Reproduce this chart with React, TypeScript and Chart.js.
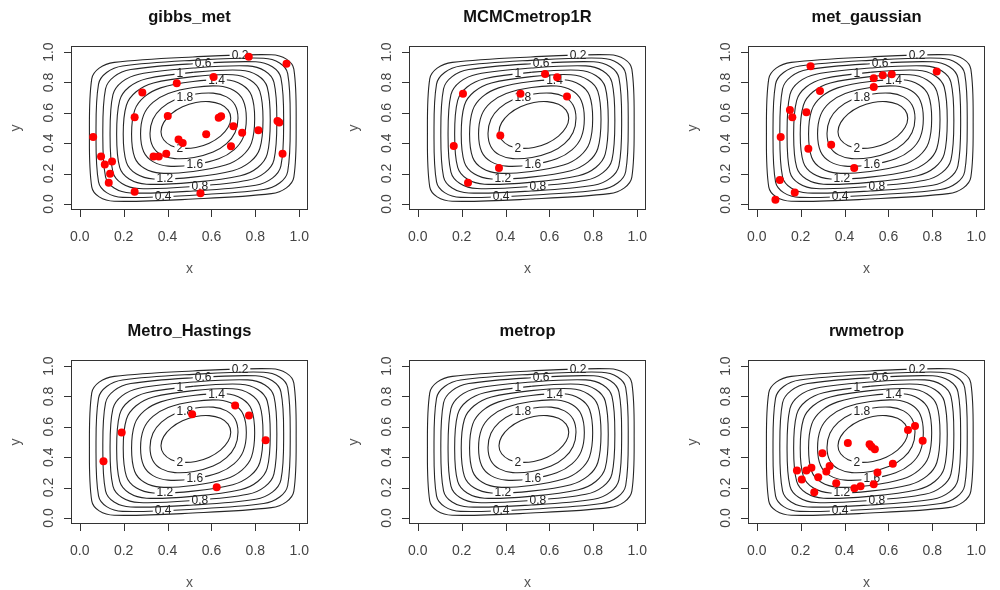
import React, { useEffect, useRef } from 'react';
import { Chart, registerables } from 'chart.js';

Chart.register(...registerables);

// ---------- data ----------
const panelTitles = ['gibbs_met', 'MCMCmetrop1R', 'met_gaussian', 'Metro_Hastings', 'metrop', 'rwmetrop'];
const tickValues = [0, 0.2, 0.4, 0.6, 0.8, 1.0];
const tickLabels = ['0.0', '0.2', '0.4', '0.6', '0.8', '1.0'];
const xAxisTitle = 'x';
const yAxisTitle = 'y';

const contourLevels = ['0.2', '0.4', '0.6', '0.8', '1', '1.2', '1.4', '1.6', '1.8', '2'];
const contourLabelAnchors = [
  [0.73, 0.978], [0.38, 0.049], [0.562, 0.928], [0.547, 0.117], [0.456, 0.858],
  [0.388, 0.167], [0.623, 0.815], [0.524, 0.259], [0.479, 0.705], [0.456, 0.369],
];

// contour rings (closed curves)
const ring02 = [[.044,.467],[.0545,.112],[.0884,.0462],[.157,.0174],[.515,.032],[.873,.0676],[.9416,.106],[.9755,.1766],[.986,.533],[.9755,.888],[.9416,.9538],[.873,.9826],[.515,.968],[.157,.9324],[.0884,.894],[.0545,.8234]];
const ring04 = [[.074,.4661],[.0855,.1447],[.1223,.0744],[.1952,.0433],[.5165,.0575],[.8378,.0947],[.9107,.1374],[.9475,.2137],[.959,.5369],[.9475,.8583],[.9107,.9286],[.8378,.9597],[.5165,.9455],[.1952,.9083],[.1223,.8656],[.0855,.7893]];
const ring06 = [[.105,.4669],[.1174,.1784],[.1564,.1048],[.2323,.072],[.517,.085],[.8017,.1232],[.8776,.1698],[.9166,.2504],[.929,.5411],[.9166,.8296],[.8776,.9032],[.8017,.936],[.517,.923],[.2323,.8848],[.1564,.8382],[.1174,.7576]];
const ring08 = [[.138,.4632],[.1511,.2101],[.1922,.1349],[.27,.1012],[.518,.115],[.766,.1558],[.8438,.2065],[.8849,.2909],[.898,.5468],[.8849,.7999],[.8438,.8751],[.766,.9088],[.518,.895],[.27,.8542],[.1922,.8035],[.1511,.7191]];
const ring10 = [[.168,.4595],[.1819,.2401],[.225,.1638],[.3041,.1296],[.518,.143],[.7319,.1852],[.811,.24],[.8541,.3275],[.868,.5505],[.8541,.7699],[.811,.8462],[.7319,.8804],[.518,.867],[.3041,.8248],[.225,.77],[.1819,.6825]];
const ring12 = [[.198,.4597],[.2125,.2738],[.2567,.1985],[.3355,.1644],[.5165,.1765],[.6975,.2188],[.7763,.2765],[.8205,.365],[.835,.5553],[.8205,.7412],[.7763,.8165],[.6975,.8506],[.5165,.8385],[.3355,.7962],[.2567,.7385],[.2125,.65]];
const ring14 = [[.236,.4595],[.2504,.3061],[.2939,.235],[.3686,.2026],[.5165,.214],[.6644,.2558],[.7391,.3152],[.7826,.4019],[.797,.5605],[.7826,.7139],[.7391,.785],[.6644,.8174],[.5165,.806],[.3686,.7642],[.2939,.7048],[.2504,.6181]];
const ring16 = [[.277,.4619],[.2912,.3433],[.3334,.2787],[.4029,.2488],[.518,.258],[.6331,.2972],[.7026,.3563],[.7448,.4385],[.759,.5631],[.7448,.6817],[.7026,.7463],[.6331,.7762],[.518,.767],[.4029,.7278],[.3334,.6687],[.2912,.5865]];
const ring18 = [[.32,.4639],[.3334,.377],[.3722,.323],[.4335,.2982],[.5205,.306],[.6075,.3416],[.6688,.3972],[.7076,.4706],[.721,.5641],[.7076,.651],[.6688,.705],[.6075,.7298],[.5205,.722],[.4335,.6864],[.3722,.6308],[.3334,.5574]];
const ring20 = [[.37,.4755],[.3821,.4223],[.4166,.3838],[.4682,.3663],[.529,.372],[.5898,.4003],[.6414,.4468],[.6759,.5045],[.688,.5645],[.6759,.6177],[.6414,.6562],[.5898,.6737],[.529,.668],[.4682,.6397],[.4166,.5932],[.3821,.5355]];
const contourRings = [ring02, ring04, ring06, ring08, ring10, ring12, ring14, ring16, ring18, ring20];

// sampled points per panel
const samplesGibbsMet = [[0.77,0.969],[0.942,0.923],[0.61,0.836],[0.442,0.794],[0.285,0.734],[0.25,0.57],[0.401,0.579],[0.633,0.568],[0.644,0.577],[0.901,0.546],[0.909,0.537],[0.061,0.441],[0.70,0.512],[0.814,0.486],[0.74,0.468],[0.576,0.459],[0.45,0.424],[0.469,0.401],[0.689,0.379],[0.924,0.331],[0.394,0.331],[0.336,0.313],[0.36,0.313],[0.097,0.313],[0.147,0.279],[0.114,0.259],[0.138,0.198],[0.132,0.14],[0.25,0.08],[0.55,0.071]];
const samplesMCMCmetrop1R = [[0.58,0.856],[0.635,0.834],[0.206,0.725],[0.468,0.725],[0.68,0.707],[0.376,0.45],[0.164,0.381],[0.37,0.237],[0.229,0.14]];
const samplesMetGaussian = [[0.245,0.907],[0.82,0.872],[0.533,0.827],[0.574,0.847],[0.615,0.854],[0.533,0.77],[0.288,0.743],[0.151,0.619],[0.226,0.603],[0.162,0.57],[0.109,0.441],[0.339,0.39],[0.235,0.364],[0.444,0.237],[0.105,0.158],[0.173,0.075],[0.085,0.027]];
const samplesMetroHastings = [[0.708,0.741],[0.512,0.683],[0.771,0.674],[0.191,0.563],[0.847,0.512],[0.108,0.373],[0.624,0.202]];
const samplesMetrop: number[][] = [];
const samplesRwmetrop = [[0.721,0.605],[0.689,0.579],[0.756,0.508],[0.415,0.494],[0.514,0.486],[0.523,0.468],[0.538,0.452],[0.299,0.426],[0.62,0.357],[0.332,0.342],[0.249,0.331],[0.226,0.313],[0.183,0.313],[0.317,0.306],[0.55,0.299],[0.28,0.268],[0.205,0.253],[0.362,0.228],[0.533,0.222],[0.473,0.208],[0.445,0.195],[0.262,0.169]];
const panelSamples = [samplesGibbsMet, samplesMCMCmetrop1R, samplesMetGaussian, samplesMetroHastings, samplesMetrop, samplesRwmetrop];

// ---------- layout / style ----------
const PANEL_W = 323;
const PANEL_H = 276;
const COL_LEFT = [0, 338, 677];
const ROW_TOP = [0, 314];
const FONT = '"Liberation Sans", Arial, Helvetica, sans-serif';
const CONTOUR_COLOR = '#262626';
const CONTOUR_FONT = `12px ${FONT}`;

function labelRect(ctx: CanvasRenderingContext2D, xs: any, ys: any, k: number) {
  const [lx, ly] = contourLabelAnchors[k];
  const px = xs.getPixelForValue(lx);
  const py = ys.getPixelForValue(ly);
  ctx.font = CONTOUR_FONT;
  const w = ctx.measureText(contourLevels[k]).width + 4;
  const h = 10;
  return { x: px - w / 2, y: py - h / 2, w, h, px, py };
}

const rStylePlugin = {
  id: 'rStyle',
  beforeDatasetsDraw(chart: any) {
    const { ctx, scales } = chart;
    ctx.save();
    ctx.font = CONTOUR_FONT;
    ctx.fillStyle = '#222';
    ctx.textAlign = 'center';
    ctx.textBaseline = 'middle';
    contourLevels.forEach((lev, k) => {
      const r = labelRect(ctx, scales.x, scales.y, k);
      ctx.fillText(lev, r.px, r.py + 0.5);
    });
    ctx.restore();
  },
  beforeDatasetDraw(chart: any, args: any) {
    if (args.index === 0) return;
    const k = args.index - 1;
    const { ctx, scales } = chart;
    ctx.save();
    const r = labelRect(ctx, scales.x, scales.y, k);
    ctx.beginPath();
    ctx.rect(0, 0, chart.width, chart.height);
    ctx.rect(r.x, r.y, r.w, r.h);
    ctx.clip('evenodd');
  },
  afterDatasetDraw(chart: any, args: any) {
    if (args.index === 0) return;
    chart.ctx.restore();
  },
  afterDraw(chart: any) {
    const { ctx, chartArea: a, scales } = chart;
    const xs = scales.x;
    const ys = scales.y;
    const title = chart.options.plugins.rStyle.title;
    ctx.save();
    ctx.strokeStyle = '#333';
    ctx.lineWidth = 1;
    ctx.strokeRect(a.left + 0.5, a.top + 0.5, a.right - a.left - 1, a.bottom - a.top - 1);
    ctx.beginPath();
    tickValues.forEach((v) => {
      const px = Math.round(xs.getPixelForValue(v)) + 0.5;
      ctx.moveTo(px, a.bottom - 1);
      ctx.lineTo(px, a.bottom + 7);
      const py = Math.round(ys.getPixelForValue(v)) + 0.5;
      ctx.moveTo(a.left + 1, py);
      ctx.lineTo(a.left - 7, py);
    });
    ctx.stroke();

    ctx.fillStyle = '#444';
    ctx.font = `14px ${FONT}`;
    ctx.textAlign = 'center';
    ctx.textBaseline = 'middle';
    tickValues.forEach((v, i) => {
      const px = xs.getPixelForValue(v);
      ctx.fillText(tickLabels[i], px, a.bottom + 27);
      const py = ys.getPixelForValue(v);
      ctx.save();
      ctx.translate(a.left - 22, py);
      ctx.rotate(-Math.PI / 2);
      ctx.fillText(tickLabels[i], 0, 0);
      ctx.restore();
    });

    ctx.font = `14px ${FONT}`;
    ctx.fillStyle = '#555';
    ctx.fillText(xAxisTitle, (a.left + a.right) / 2, a.bottom + 59);
    ctx.save();
    ctx.translate(a.left - 54.5, (a.top + a.bottom) / 2);
    ctx.rotate(-Math.PI / 2);
    ctx.fillText(yAxisTitle, 0, 0);
    ctx.restore();

    ctx.font = `bold 16.5px ${FONT}`;
    ctx.fillStyle = '#111';
    ctx.textBaseline = 'alphabetic';
    ctx.fillText(title, (a.left + a.right) / 2, a.top - 24);
    ctx.restore();
  },
};

function Panel({ index }: { index: number }) {
  const ref = useRef<HTMLCanvasElement>(null);
  useEffect(() => {
    const canvas = ref.current;
    if (!canvas) return;
    const ringDatasets = contourRings.map((ring) => {
      const n = ring.length;
      const seq = [ring[n - 1], ...ring, ring[0], ring[1]];
      return {
        data: seq.map(([x, y]) => ({ x, y })),
        showLine: true,
        borderColor: CONTOUR_COLOR,
        borderWidth: 1.1,
        pointRadius: 0,
        pointHoverRadius: 0,
        tension: 0.35,
        fill: false,
        order: 1,
        segment: {
          borderColor: (c: any) =>
            c.p0DataIndex === 0 || c.p0DataIndex === n + 1 ? 'rgba(0,0,0,0)' : CONTOUR_COLOR,
        },
      };
    });
    const pointsDataset = {
      data: panelSamples[index].map(([x, y]) => ({ x, y })),
      showLine: false,
      pointRadius: 4,
      pointHoverRadius: 4,
      pointBackgroundColor: '#ff0000',
      pointBorderColor: '#ff0000',
      pointBorderWidth: 0,
      order: 0,
    };
    const chart = new Chart(canvas, {
      type: 'scatter',
      data: { datasets: [pointsDataset, ...ringDatasets] as any },
      options: {
        responsive: false,
        animation: false,
        events: [],
        layout: { padding: { left: 71, right: 15, top: 46, bottom: 66 } },
        scales: {
          x: { type: 'linear', min: -0.04, max: 1.04, display: false },
          y: { type: 'linear', min: -0.04, max: 1.04, display: false },
        },
        plugins: {
          legend: { display: false },
          tooltip: { enabled: false },
          rStyle: { title: panelTitles[index] },
        } as any,
      },
      plugins: [rStylePlugin as any],
    });
    return () => chart.destroy();
  }, [index]);
  return (
    <canvas
      ref={ref}
      width={PANEL_W}
      height={PANEL_H}
      style={{
        position: 'absolute',
        left: COL_LEFT[index % 3],
        top: ROW_TOP[Math.floor(index / 3)],
        width: PANEL_W,
        height: PANEL_H,
        display: 'block',
      }}
    />
  );
}

export default function App() {
  return (
    <div
      style={{
        position: 'fixed',
        left: 0,
        top: 0,
        width: 1000,
        height: 590,
        background: '#ffffff',
        overflow: 'hidden',
      }}
    >
      {panelTitles.map((t, i) => (
        <Panel key={t} index={i} />
      ))}
    </div>
  );
}
